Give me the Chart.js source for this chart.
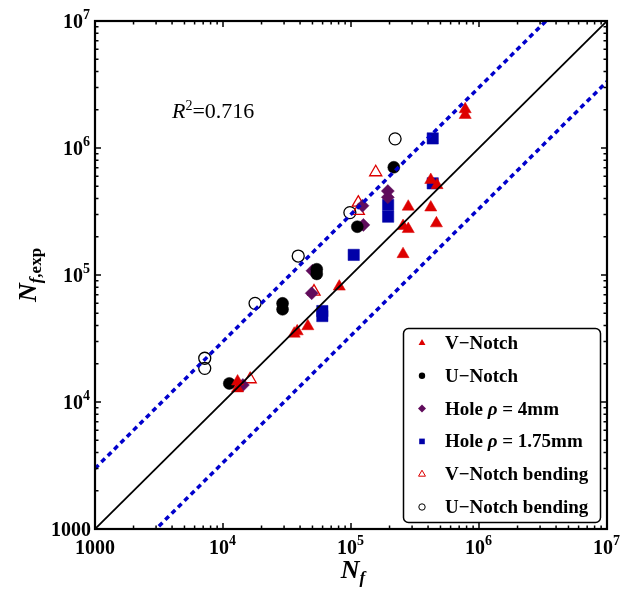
<!DOCTYPE html>
<html>
<head>
<meta charset="utf-8">
<script src="https://cdn.jsdelivr.net/npm/chart.js@4.4.0/dist/chart.umd.min.js"></script>
<style>
  html, body { margin: 0; padding: 0; background: #fff; }
  #wrap { width: 632px; height: 594px; }
</style>
</head>
<body>
<div id="wrap"><canvas id="lifeChart" width="632" height="594"></canvas></div>
<script>
// predicted life Nf (x) against experimental life Nf,exp (y), in cycles
const vNotchNf   = [7.8e5, 7.8e5, 4.2e5, 4.7e5, 2.8e5, 4.2e5, 4.65e5, 2.55e5, 2.8e5, 2.55e5, 8.1e4, 3.6e4, 3.8e4, 4.6e4, 1.3e4, 1.3e4];
const vNotchExp  = [2.02e6, 1.82e6, 5.6e5, 5.1e5, 3.45e5, 3.4e5, 2.55e5, 2.43e5, 2.3e5, 1.46e5, 8.1e4, 3.45e4, 3.6e4, 3.95e4, 1.45e4, 1.28e4];
const uNotchNf   = [2.16e5, 1.12e5, 5.4e4, 5.4e4, 2.92e4, 2.92e4, 1.12e4];
const uNotchExp  = [7.05e5, 2.4e5, 1.11e5, 1.02e5, 5.98e4, 5.37e4, 1.4e4];
const hole4Nf    = [1.94e5, 1.94e5, 1.23e5, 1.25e5, 5.0e4, 4.93e4, 1.43e4];
const hole4Exp   = [4.58e5, 4.09e5, 3.51e5, 2.48e5, 1.08e5, 7.18e4, 1.36e4];
const hole175Nf  = [4.35e5, 4.35e5, 1.95e5, 1.95e5, 1.05e5, 5.97e4, 5.97e4];
const hole175Exp = [1.19e6, 5.27e5, 3.56e5, 2.88e5, 1.44e5, 5.2e4, 4.75e4];
const vBendNf    = [1.56e5, 1.14e5, 1.14e5, 5.14e4, 1.63e4];
const vBendExp   = [6.44e5, 3.71e5, 3.2e5, 7.4e4, 1.51e4];
const uBendNf    = [2.21e5, 9.8e4, 3.87e4, 1.78e4, 7.2e3, 7.2e3];
const uBendExp   = [1.18e6, 3.1e5, 1.41e5, 5.98e4, 2.21e4, 1.84e4];

const axisRange  = [1e3, 1e7];
const scatterBand = 3;           // factor-of-3 band around the 1:1 line
const rSquared   = '0.716';
const tickValues = [1e3, 1e4, 1e5, 1e6, 1e7];
const tickBases  = ['1000', '10', '10', '10', '10'];
const tickExps   = ['', '4', '5', '6', '7'];

const SERIF = "'Liberation Serif', 'Times New Roman', serif";
const RED = '#dd0000', PURPLE = '#600c5c', NAVY = '#0000a8', DASH = '#0000cc';

const pts = (xs, ys) => xs.map((v, i) => ({ x: v, y: ys[i] }));

const series = [
  { label: 'V−Notch', data: pts(vNotchNf, vNotchExp), style: 'triangle', color: RED, fill: true, r: 7 },
  { label: 'U−Notch', data: pts(uNotchNf, uNotchExp), style: 'circle', color: '#000', fill: true, r: 6 },
  { label: 'Hole ρ = 4mm', data: pts(hole4Nf, hole4Exp), style: 'rectRot', color: PURPLE, fill: true, r: 6.5 },
  { label: 'Hole ρ = 1.75mm', data: pts(hole175Nf, hole175Exp), style: 'rect', color: NAVY, fill: true, r: 8 },
  { label: 'V−Notch bending', data: pts(vBendNf, vBendExp), style: 'triangle', color: RED, fill: false, r: 7 },
  { label: 'U−Notch bending', data: pts(uBendNf, uBendExp), style: 'circle', color: '#000', fill: false, r: 6 }
];

// reference lines go first so they are painted over the markers
const lineSets = [
  { data: axisRange.map(v => ({ x: v, y: v })), borderColor: '#000', borderWidth: 1.8, borderDash: [] },
  { data: axisRange.map(v => ({ x: v, y: v * scatterBand })), borderColor: DASH, borderWidth: 3.5, borderDash: [5, 4] },
  { data: axisRange.map(v => ({ x: v, y: v / scatterBand })), borderColor: DASH, borderWidth: 3.5, borderDash: [5, 4] }
].map(d => Object.assign(d, { showLine: true, pointRadius: 0, fill: false, borderCapStyle: 'butt' }));

const markerSets = series.map(s => ({
  label: s.label,
  data: s.data,
  pointStyle: s.style,
  pointRadius: s.r,
  pointBackgroundColor: s.fill ? s.color : 'rgba(0,0,0,0)',
  pointBorderColor: s.color,
  pointBorderWidth: s.fill ? 0.5 : 1.3
}));

// small marker for the legend box
function drawMarker(ctx, s, x, y, r) {
  ctx.beginPath();
  if (s.style === 'circle') {
    ctx.arc(x, y, r, 0, Math.PI * 2);
  } else if (s.style === 'triangle') {
    ctx.moveTo(x, y - r);
    ctx.lineTo(x + r * 0.866, y + r / 2);
    ctx.lineTo(x - r * 0.866, y + r / 2);
    ctx.closePath();
  } else if (s.style === 'rectRot') {
    ctx.moveTo(x, y - r); ctx.lineTo(x + r, y); ctx.lineTo(x, y + r); ctx.lineTo(x - r, y);
    ctx.closePath();
  } else {
    ctx.rect(x - r * 0.7, y - r * 0.7, r * 1.4, r * 1.4);
  }
  if (s.fill) { ctx.fillStyle = s.color; ctx.fill(); }
  else { ctx.strokeStyle = s.color; ctx.lineWidth = 1; ctx.stroke(); }
}

// draws runs of [text, font, dy] starting at x, returns end x
function drawRuns(ctx, runs, x, y) {
  for (const [t, f, dy] of runs) {
    ctx.font = f;
    ctx.fillText(t, x, y + dy);
    x += ctx.measureText(t).width;
  }
  return x;
}
function runsWidth(ctx, runs) {
  let w = 0;
  for (const [t, f] of runs) { ctx.font = f; w += ctx.measureText(t).width; }
  return w;
}

const framePlugin = {
  id: 'frame',
  afterDraw(chart) {
    const { ctx, chartArea: a, scales: { x, y } } = chart;
    ctx.save();
    ctx.fillStyle = '#000';
    ctx.strokeStyle = '#000';
    ctx.textAlign = 'left';
    ctx.textBaseline = 'alphabetic';

    // inward ticks on all four sides
    ctx.lineWidth = 1.5;
    for (let e = 3; e <= 7; e++) {
      for (let m = 1; m <= 9; m++) {
        const v = m * Math.pow(10, e);
        if (v > axisRange[1]) break;
        const len = m === 1 ? 6 : 3.5;
        const px = x.getPixelForValue(v), py = y.getPixelForValue(v);
        ctx.beginPath();
        ctx.moveTo(px, a.bottom); ctx.lineTo(px, a.bottom - len);
        ctx.moveTo(px, a.top); ctx.lineTo(px, a.top + len);
        ctx.moveTo(a.left, py); ctx.lineTo(a.left + len, py);
        ctx.moveTo(a.right, py); ctx.lineTo(a.right - len, py);
        ctx.stroke();
      }
    }
    ctx.lineWidth = 2.2;
    ctx.strokeRect(a.left, a.top, a.right - a.left, a.bottom - a.top);

    // tick labels
    const base = 'bold 20px ' + SERIF, sup = 'bold 14px ' + SERIF;
    tickValues.forEach((v, i) => {
      const runs = [[tickBases[i], base, 0]];
      if (tickExps[i]) runs.push([tickExps[i], sup, -9]);
      const w = runsWidth(ctx, runs) + (tickExps[i] ? 1 : 0);
      drawRuns(ctx, runs, x.getPixelForValue(v) - w / 2, a.bottom + 25);
      drawRuns(ctx, runs, a.left - 4 - w, y.getPixelForValue(v) + 7);
    });

    // axis titles
    const big = 'bold italic 26px ' + SERIF, subI = 'bold italic 17px ' + SERIF, sub = 'bold 17px ' + SERIF;
    const xt = [['N', big, 0], ['f', subI, 5]];
    drawRuns(ctx, xt, 353 - runsWidth(ctx, xt) / 2, a.bottom + 49);
    const yt = [['N', big, 0], ['f', subI, 5], [',exp', sub, 5]];
    ctx.save();
    ctx.translate(36, 275);
    ctx.rotate(-Math.PI / 2);
    drawRuns(ctx, yt, -runsWidth(ctx, yt) / 2, 0);
    ctx.restore();

    // goodness of fit
    drawRuns(ctx, [['R', 'italic 22px ' + SERIF, 0], ['2', '14px ' + SERIF, -8], ['=' + rSquared, '22px ' + SERIF, 0]], 172, 118);

    // legend box
    const bx = 403.5, by = 328.5, bw = 197, bh = 194;
    ctx.lineWidth = 1.5;
    ctx.beginPath();
    ctx.roundRect(bx, by, bw, bh, 5);
    ctx.fillStyle = '#fff';
    ctx.fill();
    ctx.stroke();
    const lf = 'bold 19px ' + SERIF, lfi = 'bold italic 19px ' + SERIF;
    series.forEach((s, i) => {
      const ry = 343 + i * 32.8;
      drawMarker(ctx, s, 422, ry, s.style === 'circle' ? 3.2 : 4);
      ctx.fillStyle = '#000';
      const parts = s.label.split('ρ');
      const runs = [];
      parts.forEach((p, k) => {
        if (k > 0) runs.push(['ρ', lfi, 0]);
        runs.push([p, lf, 0]);
      });
      drawRuns(ctx, runs, 445, ry + 6);
    });
    ctx.restore();
  }
};

new Chart(document.getElementById('lifeChart').getContext('2d'), {
  type: 'scatter',
  data: { datasets: lineSets.concat(markerSets) },
  options: {
    responsive: false,
    animation: false,
    layout: { padding: { left: 95, top: 21, right: 25, bottom: 65 } },
    scales: {
      x: { type: 'logarithmic', min: axisRange[0], max: axisRange[1], display: false },
      y: { type: 'logarithmic', min: axisRange[0], max: axisRange[1], display: false }
    },
    plugins: { legend: { display: false }, tooltip: { enabled: false } }
  },
  plugins: [framePlugin]
});
</script>
</body>
</html>
